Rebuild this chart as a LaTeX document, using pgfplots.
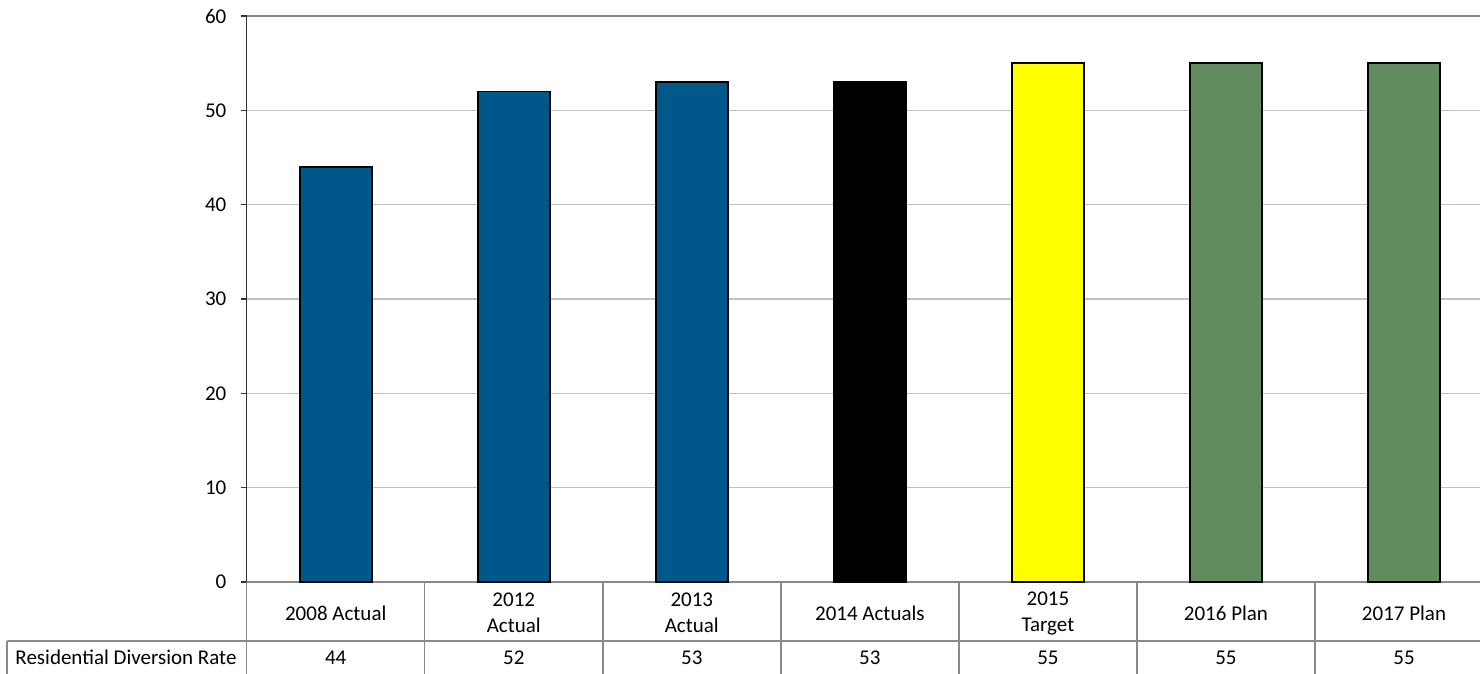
\documentclass[border=0pt]{standalone}
\usepackage{fontspec}
\setmainfont{Carlito}
\usepackage{pgfplots}
\pgfplotsset{compat=1.18}
\definecolor{barblue}{RGB}{0,87,138}
\definecolor{bargreen}{RGB}{97,140,95}
\definecolor{baryellow}{RGB}{255,255,0}
\definecolor{gridgray}{RGB}{192,192,192}
\definecolor{tablegray}{RGB}{137,137,137}
\definecolor{topgray}{RGB}{134,134,134}
\begin{document}
\fontsize{10.5}{13}\selectfont
\begin{tikzpicture}
\begin{axis}[
  scale only axis,
  width=623.15pt, height=283pt,
  xmin=-0.5, xmax=6.5, ymin=0, ymax=60,
  ytick={0,10,...,60},
  ymajorgrids, grid style={gridgray, line width=0.75pt},
  axis x line*=bottom, axis y line*=left,
  x axis line style={tablegray, line width=0.75pt, -},
  y axis line style={black!80, line width=0.75pt, -},
  tick align=outside, major tick length=3pt,
  ytick style={black!80, line width=0.75pt},
  xtick={0,...,6},
  xticklabels={2008 Actual, 2012\\Actual, 2013\\Actual, 2014 Actuals, 2015\\Target, 2016 Plan, 2017 Plan},
  x tick style={draw=none},
  xticklabel style={anchor=center, align=center, yshift=-12.6pt},
  yticklabel style={xshift=-3.5pt},
  ticklabel style={font=\fontsize{10.5}{13}\selectfont},
  /pgf/number format/assume math mode=true,
  clip=false,
  ybar, bar width=36pt,
  every axis plot/.append style={bar shift=0pt, draw=black, line width=0.9pt},
]
\addplot[fill=barblue] coordinates {(0,44) (1,52) (2,53)};
\addplot[fill=black] coordinates {(3,53)};
\addplot[fill=baryellow] coordinates {(4,55)};
\addplot[fill=bargreen] coordinates {(5,55) (6,55)};
% top border line
\draw[topgray, line width=0.9pt] (axis cs:-0.5,60) -- (axis cs:6.5,60);
% data table
\pgfplotsinvokeforeach{-0.5,0.5,1.5,2.5,3.5,4.5,5.5,6.5}{
  \draw[tablegray, line width=0.75pt] (axis cs:#1,0) -- (axis cs:#1,-9.86);
}
\draw[tablegray, line width=0.75pt] (axis cs:-1.846,-6.254) -- (axis cs:6.5,-6.254);
\draw[tablegray, line width=0.75pt] (axis cs:-1.846,-6.254) -- (axis cs:-1.846,-9.86);
\node at (axis cs:-1.178,-8.0) {Residential Diversion Rate};
\node at (axis cs:0,-8.0) {44};
\node at (axis cs:1,-8.0) {52};
\node at (axis cs:2,-8.0) {53};
\node at (axis cs:3,-8.0) {53};
\node at (axis cs:4,-8.0) {55};
\node at (axis cs:5,-8.0) {55};
\node at (axis cs:6,-8.0) {55};
\coordinate (picsw) at (axis cs:-1.8856,-9.647);
\coordinate (picne) at (axis cs:6.4268,61.696);
\end{axis}
\pgfresetboundingbox
\path[use as bounding box] (picsw) rectangle (picne);
\end{tikzpicture}
\end{document}
